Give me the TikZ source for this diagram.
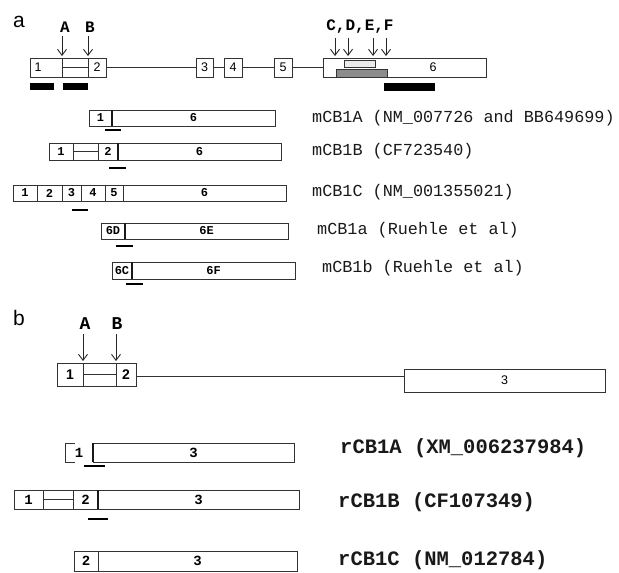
\documentclass[tikz,border=0pt]{standalone}
\usepackage{fontspec}
\setmainfont{Liberation Sans}
\setsansfont{Liberation Sans}
\setmonofont{Liberation Mono}
\usepackage{tikz}
\usetikzlibrary{arrows.meta, positioning, calc}
\tikzstyle{exon} = [rectangle, draw=black!80, line width=0.95pt, inner sep=0pt, outer sep=0pt, minimum height=19pt, font=\sffamily\fontsize{12.5}{12.5}\selectfont]
\tikzstyle{gexon} = [exon, minimum height=23pt, font=\sffamily\bfseries\fontsize{14}{14}\selectfont]
\tikzstyle{seg} = [rectangle, draw=black!80, line width=0.95pt, inner sep=0pt, outer sep=0pt, minimum height=16pt, font=\ttfamily\bfseries\fontsize{12}{12}\selectfont]
\tikzstyle{rseg} = [seg, minimum height=19pt, font=\ttfamily\bfseries\fontsize{14}{14}\selectfont]
\tikzstyle{line} = [draw=black!80, line width=0.9pt]
\tikzstyle{split} = [draw=black!90, line width=1.9pt]
\tikzstyle{site} = [draw=black!85, line width=0.9pt, -{Straight Barb[length=6pt,width=9pt]}, shorten <=3pt, shorten >=2pt]
\tikzstyle{probe} = [draw=black, line width=2.2pt]
\tikzstyle{tag} = [anchor=west, inner sep=0pt, text=black!90, font=\ttfamily\fontsize{16.8}{17}\selectfont]
\tikzstyle{rtag} = [tag, font=\ttfamily\bfseries\fontsize{20.5}{21}\selectfont]
\tikzstyle{sitelabel} = [inner sep=1pt, font=\ttfamily\bfseries\fontsize{16}{16}\selectfont]
\tikzstyle{panel} = [anchor=base west, inner sep=0pt, font=\sffamily\fontsize{21}{21}\selectfont]

\begin{document}
\begin{tikzpicture}[x=1pt, y=-1pt, node distance=0pt]
    \useasboundingbox (0,0) rectangle (619,573);

    % Panel a: mouse gene
    \node [panel] (pa) at (13,27) {a};
    \node [exon, anchor=west, minimum width=32pt] (m1) at (30,67.5) {1\hspace*{16pt}};
    \node [exon, right=of m1, minimum width=26pt] (mAB) {};
    \node [exon, right=of mAB, minimum width=18pt] (m2) {2};
    \node [exon, anchor=west, minimum width=17pt] (m3) at (196,67.5) {3};
    \node [exon, anchor=west, minimum width=18pt] (m4) at (224,67.5) {4};
    \node [exon, anchor=west, minimum width=18pt] (m5) at (274,67.5) {5};
    \node [exon, anchor=west, minimum width=163pt] (m6) at (323,67.5) {\hspace*{57pt}6};

    % Paths
    \draw [line] (mAB.west) -- (mAB.east);
    \draw [line] (m2) -- (m3);
    \draw [line] (m3) -- (m4);
    \draw [line] (m4) -- (m5);
    \draw [line] (m5) -- (m6);

    % Probes
    \draw [fill=black!8, draw=black!80, line width=0.8pt] (344,60) rectangle (375,67);
    \draw [fill=black!45, draw=black!80, line width=0.8pt] (336,69) rectangle (387,77);
    \fill (30,83) rectangle (54,90);
    \fill (63,83) rectangle (88,90);
    \fill (384,83) rectangle (435,91);

    % Sites
    \node [sitelabel] (lA) at (65,27) {A};
    \node [sitelabel] (lB) at (90,27) {B};
    \node [sitelabel] (lCF) at (360,27) {C,D,E,F};
    \draw [site] (lA.south -| m1.east) -- (m1.north east);
    \draw [site] (lB.south -| mAB.east) -- (mAB.north east);
    \foreach \x in {335,348,373,386}
        \draw [site] (lCF.south -| \x,0) -- (m6.north -| \x,0);

    % Mouse transcripts
    \node [seg, anchor=west, minimum width=23pt] (a1) at (89,118) {1};
    \node [seg, right=of a1, minimum width=163pt] (a6) {6};
    \draw [split] (a1.north east) -- (a1.south east);
    \draw [probe] (105,130) -- (121,130);
    \node [tag] (tA) at (312,118) {mCB1A (NM\_007726 and BB649699)};

    \node [seg, anchor=west, minimum width=24pt, minimum height=17pt] (b1) at (49,151.5) {1};
    \node [seg, right=of b1, minimum width=25pt, minimum height=17pt] (bAB) {};
    \node [seg, right=of bAB, minimum width=20pt, minimum height=17pt] (b2) {2};
    \node [seg, right=of b2, minimum width=163pt, minimum height=17pt] (b6) {6};
    \draw [line] (bAB.west) -- (bAB.east);
    \draw [split] (b2.north east) -- (b2.south east);
    \draw [probe] (109,168) -- (126,168);
    \node [tag] (tB) at (312,151) {mCB1B (CF723540)};

    \node [seg, anchor=west, minimum width=24pt] (c1) at (13,193) {1};
    \node [seg, right=of c1, minimum width=25pt] (c2) {2};
    \node [seg, right=of c2, minimum width=19pt] (c3) {3};
    \node [seg, right=of c3, minimum width=24pt] (c4) {4};
    \node [seg, right=of c4, minimum width=18pt] (c5) {5};
    \node [seg, right=of c5, minimum width=163pt] (c6) {6};
    \draw [probe] (72,210) -- (88,210);
    \node [tag] (tC) at (312,192) {mCB1C (NM\_001355021)};

    \node [seg, anchor=west, minimum width=24pt] (d1) at (101,231) {6D};
    \node [seg, right=of d1, minimum width=163pt] (d2) {6E};
    \draw [split] (d1.north east) -- (d1.south east);
    \draw [probe] (116,246) -- (133,246);
    \node [tag] (tD) at (317,230) {mCB1a (Ruehle et al)};

    \node [seg, anchor=west, minimum width=20pt, minimum height=17pt] (e1) at (112,270.5) {6C};
    \node [seg, right=of e1, minimum width=163pt, minimum height=17pt] (e2) {6F};
    \draw [split] (e1.north east) -- (e1.south east);
    \draw [probe] (126,284) -- (143,284);
    \node [tag] (tE) at (322,268) {mCB1b (Ruehle et al)};

    % Panel b: rat gene
    \node [panel] (pb) at (13,325) {b};
    \node [gexon, anchor=west, minimum width=26pt] (g1) at (57,374.5) {1};
    \node [gexon, right=of g1, minimum width=33pt] (gAB) {};
    \node [gexon, right=of gAB, minimum width=20pt] (g2) {2};
    \node [exon, anchor=west, minimum width=201pt, minimum height=23pt] (g3) at (404,380.5) {3};
    \draw [line] (gAB.west) -- (gAB.east);
    \draw [line] ([yshift=-2pt]g2.east) -- ([yshift=-2pt]g2.east -| g3.west);

    \node [sitelabel, font=\ttfamily\bfseries\fontsize{18}{18}\selectfont] (lA2) at (85,324) {A};
    \node [sitelabel, font=\ttfamily\bfseries\fontsize{18}{18}\selectfont] (lB2) at (117,324) {B};
    \draw [site] (lA2.south -| g1.east) -- (g1.north east);
    \draw [site] (lB2.south -| gAB.east) -- (gAB.north east);

    % Rat transcripts
    \node [rseg, anchor=west, minimum width=28pt, draw=none] (r1) at (65,452.5) {1};
    \node [rseg, right=of r1, minimum width=201pt] (r3) {3};
    \draw [line] ([xshift=10pt]r1.north west) -- (r1.north west) -- (r1.south west) -- ([xshift=10pt]r1.south west);
    \draw [split] (r3.north west) -- (r3.south west);
    \draw [probe] (84,466) -- (105,466);
    \node [rtag] (tR1) at (340,448) {rCB1A (XM\_006237984)};

    \node [rseg, anchor=west, minimum width=29pt] (s1) at (14,499.5) {1};
    \node [rseg, right=of s1, minimum width=30pt] (sAB) {};
    \node [rseg, right=of sAB, minimum width=25pt] (s2) {2};
    \node [rseg, right=of s2, minimum width=201pt] (s3) {3};
    \draw [line] (sAB.west) -- (sAB.east);
    \draw [split] (s2.north east) -- (s2.south east);
    \draw [probe] (88,519) -- (108,519);
    \node [rtag] (tR2) at (338,502) {rCB1B (CF107349)};

    \node [rseg, anchor=west, minimum width=24pt, minimum height=20pt] (t2) at (74,561) {2};
    \node [rseg, right=of t2, minimum width=199pt, minimum height=20pt] (t3) {3};
    \node [rtag] (tR3) at (338,560) {rCB1C (NM\_012784)};
\end{tikzpicture}
\end{document}
